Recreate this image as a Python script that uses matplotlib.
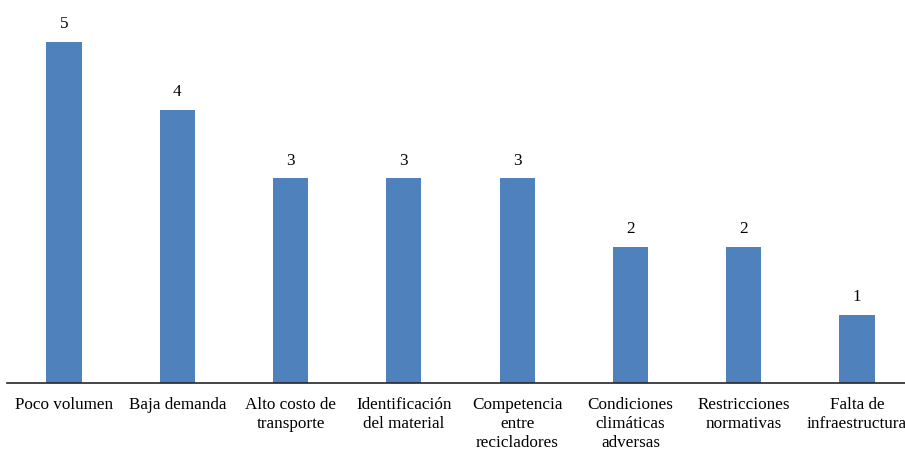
import numpy as np
import matplotlib.pyplot as plt

# barreras para el reciclaje y cantidad de menciones
categorias = ['Poco volumen', 'Baja demanda', 'Alto costo de\ntransporte',
              'Identificación\ndel material', 'Competencia\nentre\nrecicladores',
              'Condiciones\nclimáticas\nadversas', 'Restricciones\nnormativas',
              'Falta de\ninfraestructura']
menciones = [5, 4, 3, 3, 3, 2, 2, 1]

plt.rcParams['font.family'] = ['Liberation Serif', 'DejaVu Serif']

fig = plt.figure(figsize=(9.05, 4.5), dpi=100)
# el eje se extiende un poco mas alla del borde derecho
ax = fig.add_axes([7.3 / 905, 67 / 450, 906.4 / 905, 383 / 450])

x = np.arange(len(categorias))
barras = ax.bar(x, menciones, width=0.31, color='#4F81BD')

for b, v in zip(barras, menciones):
    ax.annotate(str(v), (b.get_x() + b.get_width() / 2, v),
                xytext=(0, 7), textcoords='offset points',
                ha='center', va='bottom', fontsize=12.3)

ax.set_xlim(-0.5, len(categorias) - 0.5)
ax.set_ylim(0, 383 / 68.2)
ax.set_xticks(x)
ax.set_xticklabels(categorias, fontsize=12.3, linespacing=1.27)
ax.tick_params(axis='x', length=0, pad=10)
ax.set_yticks([])

for lado in ['top', 'right', 'left']:
    ax.spines[lado].set_visible(False)
ax.spines['bottom'].set_color('#262626')
ax.spines['bottom'].set_linewidth(1.2)

fig.savefig('out.png', dpi=100)
